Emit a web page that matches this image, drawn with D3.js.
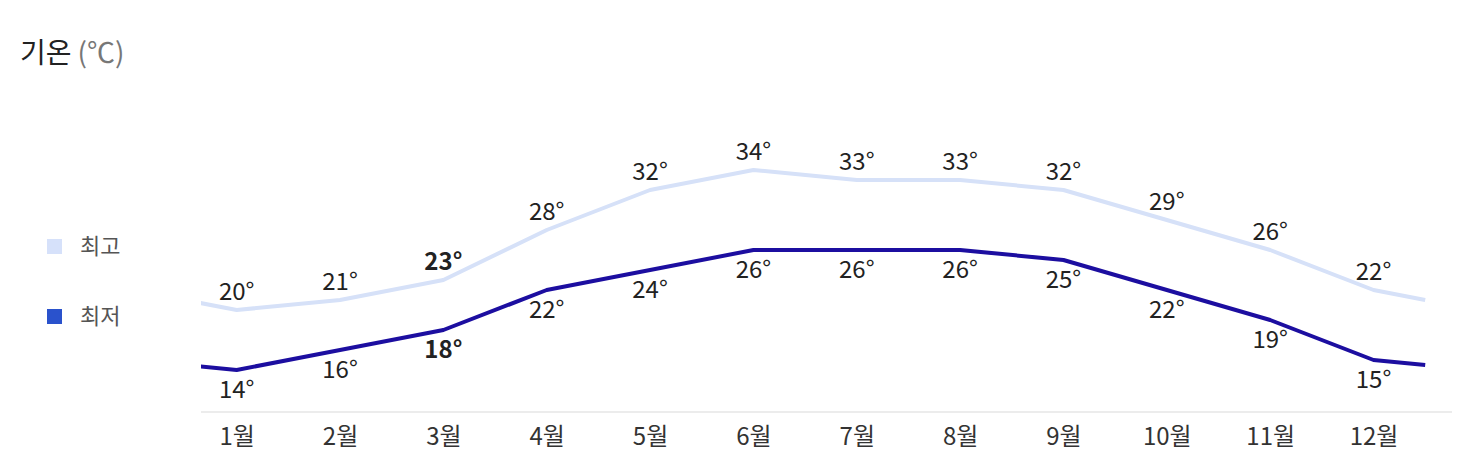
<!DOCTYPE html>
<html>
<head>
<meta charset="utf-8">
<script src="https://cdn.jsdelivr.net/npm/d3@7"></script>
<style>
  body { margin: 0; background: #fff; }
  text { font-family: "Noto Sans CJK KR", "Noto Sans", sans-serif; }
</style>
</head>
<body>
<script>
// monthly temps (°C)
var months = ["1월", "2월", "3월", "4월", "5월", "6월", "7월", "8월", "9월", "10월", "11월", "12월"];
var highs = [20, 21, 23, 28, 32, 34, 33, 33, 32, 29, 26, 22];
var lows = [14, 16, 18, 22, 24, 26, 26, 26, 25, 22, 19, 15];
// values where the lines run off the chart edges
var edgeHigh = 21, edgeLow = 14.5;
var currentMonth = "3월";

var width = 1482, height = 466;

var svg = d3.select("body").append("svg")
    .attr("width", width)
    .attr("height", height);

// x on month index, with half a step of room each side
var x = d3.scaleLinear().domain([-0.5, 11.5]).range([185, 1425.2]),
    y = d3.scaleLinear().domain([0, 40]).range([510, 110]);

// title
var title = svg.append("text")
    .attr("x", 20)
    .attr("y", 63)
    .style("font-size", "28px")
    .attr("fill", "#222");
title.append("tspan").text("기온");
title.append("tspan").attr("fill", "#777").attr("dx", 6).text("(℃)");

// legend
var legend = [{name: "최고", color: "#d6e1fa"}, {name: "최저", color: "#2a52cc"}];
var lg = svg.selectAll(".legend").data(legend).enter().append("g")
    .attr("class", "legend")
    .attr("transform", function(d, i) { return "translate(47," + (239 + i * 70) + ")"; });
lg.append("rect").attr("width", 15).attr("height", 15).attr("fill", function(d) { return d.color; });
lg.append("text")
    .attr("x", 33)
    .attr("y", 15)
    .style("font-size", "22px")
    .attr("fill", "#555")
    .text(function(d) { return d.name; });

// baseline
svg.append("line")
    .attr("x1", 201).attr("x2", 1452)
    .attr("y1", 412).attr("y2", 412)
    .attr("stroke", "#e6e6e6")
    .attr("stroke-width", 1.5);

// month labels via axis
var xAxis = d3.axisBottom(x)
    .tickValues(d3.range(months.length))
    .tickFormat(function(i) { return months[i]; })
    .tickSize(0)
    .tickPadding(0);
var ax = svg.append("g")
    .attr("transform", "translate(0,445)")
    .call(xAxis);
ax.select(".domain").remove();
ax.selectAll("text")
    .attr("dy", "0")
    .style("font-family", "'Noto Sans CJK KR', sans-serif")
    .style("font-size", "24px")
    .attr("fill", "#333");

svg.append("clipPath").attr("id", "plot")
  .append("rect").attr("x", 201).attr("y", 0).attr("width", 1281).attr("height", 412);

var line = d3.line()
    .x(function(d) { return x(d.i); })
    .y(function(d) { return y(d.v); });

function series(vals, edge) {
  var pts = vals.map(function(v, i) { return {i: i, v: v}; });
  return [{i: -0.5, v: edge}].concat(pts, [{i: vals.length - 0.5, v: edge}]);
}

var lines = [
  {id: "high", vals: highs, edge: edgeHigh, color: "#d6e1f8", dy: -10},
  {id: "low", vals: lows, edge: edgeLow, color: "#1c0ea0", dy: 28}
];

var g = svg.append("g").attr("clip-path", "url(#plot)");
g.selectAll(".line").data(lines).enter().append("path")
    .attr("class", "line")
    .attr("fill", "none")
    .attr("stroke", function(d) { return d.color; })
    .attr("stroke-width", 4)
    .attr("stroke-linejoin", "round")
    .attr("d", function(d) { return line(series(d.vals, d.edge)); });

// value labels
lines.forEach(function(s) {
  svg.append("g").selectAll("text").data(s.vals).enter().append("text")
      .attr("x", function(d, i) { return x(i); })
      .attr("y", function(d) { return y(d) + s.dy; })
      .attr("text-anchor", "middle")
      .style("font-size", "24px")
      .style("font-weight", function(d, i) { return months[i] == currentMonth ? "bold" : "normal"; })
      .attr("fill", "#222")
      .text(function(d) { return d + "°"; });
});
</script>
</body>
</html>
